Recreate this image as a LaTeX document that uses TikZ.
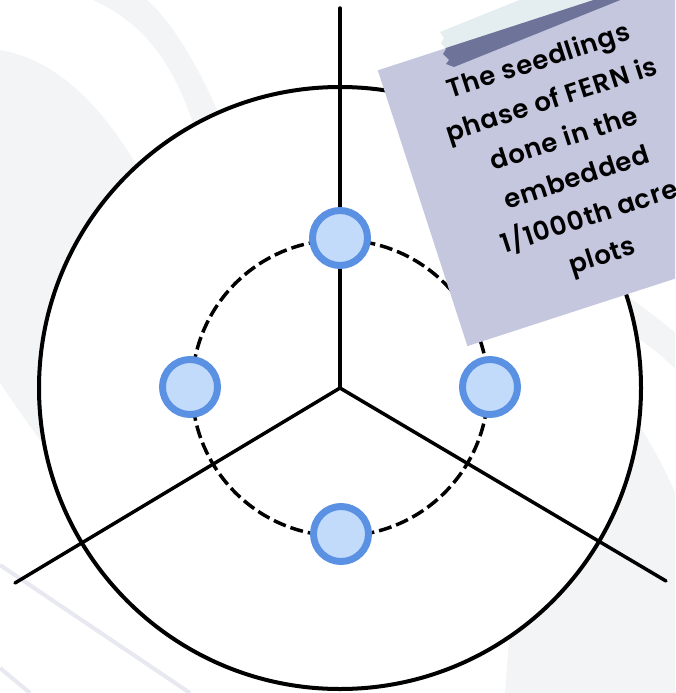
\documentclass[tikz,border=0pt]{standalone}
\usepackage{fontspec}
\newfontfamily\notefont{Poppins SemiBold}[LetterSpace=3]
\definecolor{bggray}{HTML}{F3F4F6}
\definecolor{bgline}{HTML}{E7E8F0}
\definecolor{dotfill}{HTML}{C3DBFB}
\definecolor{dotdraw}{HTML}{5A91E3}
\definecolor{notebg}{HTML}{C5C7DE}
\definecolor{tapelight}{HTML}{E4EDEF}
\definecolor{tapedark}{HTML}{6E7399}
\tikzset{
  bgshape/.style={fill=bggray, draw=none},
  bgstroke/.style={draw=bgline, line width=4pt},
  outerring/.style={draw=black, line width=4pt, fill=white},
  spoke/.style={draw=black, line width=3.5pt, line cap=round},
  dashring/.style={draw=black, line width=3.5pt, dash pattern=on 13pt off 5pt},
  dot/.style={circle, fill=dotfill, draw=dotdraw, line width=7pt, minimum size=55pt, inner sep=0pt},
  notebox/.style={fill=notebg, draw=none, rotate=18, minimum width=312pt, minimum height=290pt,
    align=center, text=black, font={\notefont\fontsize{26pt}{41pt}\selectfont}}
}
\begin{document}
\begin{tikzpicture}[x=1pt,y=-1pt]
\useasboundingbox (0,0) rectangle (675,693);
\clip (0,0) rectangle (675,693);
\fill[white] (0,0) rectangle (675,693);
% background shapes
\path[bgshape] (0,50) .. controls (70,62) and (125,130) .. (170,230) -- (130,520) -- (40,440) .. controls (22,415) .. (0,383) -- cycle;
\path[bgshape] (93,0) .. controls (125,15) and (165,40) .. (193,123) -- (217,110) .. controls (195,60) and (170,20) .. (147,0) -- cycle;
\path[bgshape] (600,280) .. controls (630,295) and (660,320) .. (690,345) -- (690,385) .. controls (660,350) and (630,330) .. (600,320) -- cycle;
\path[bgshape] (505,693) -- (512,600) -- (600,420) -- (640,427) .. controls (655,450) and (668,475) .. (680,505) -- (680,693) -- cycle;
\path[bgstroke] (0,565) -- (190,693);
\path[bgstroke] (0,668) -- (30,693);
% main figure
\coordinate (c) at (340,388);
\coordinate (topEnd) at (340,8);
\coordinate (leftEnd) at (15,583);
\coordinate (rightEnd) at (666,581);
\node[circle, minimum size=602pt, inner sep=0pt, outerring] (outer) at (c) {};
\draw[spoke] (c) -- (topEnd);
\draw[spoke] (c) -- (leftEnd);
\draw[spoke] (c) -- (rightEnd);
\draw[dashring] (c) circle[radius=148];
\node[dot] (n1) at (340,238) {};
\node[dot] (n2) at (190,387) {};
\node[dot] (n3) at (490,387) {};
\node[dot] (n4) at (341,534) {};
% tape (outside the note)
\fill[tapelight] (440,32) -- (444,38) -- (441,43) -- (446,49) -- (443,54) -- (449,60) -- (446,64) -- (454,67) -- (732,-45) -- (718,-80) -- cycle;
% note
\node[notebox] (note) at (571,160) {The seedlings\\phase of FERN is\\done in the\\embedded\\1/1000th acre\\plots};
\begin{scope}
\clip (note.north west) -- (note.north east) -- (note.south east) -- (note.south west) -- cycle;
\fill[tapedark] (440,32) -- (444,38) -- (441,43) -- (446,49) -- (443,54) -- (449,60) -- (446,64) -- (454,67) -- (732,-45) -- (718,-80) -- cycle;
\end{scope}
\end{tikzpicture}
\end{document}
